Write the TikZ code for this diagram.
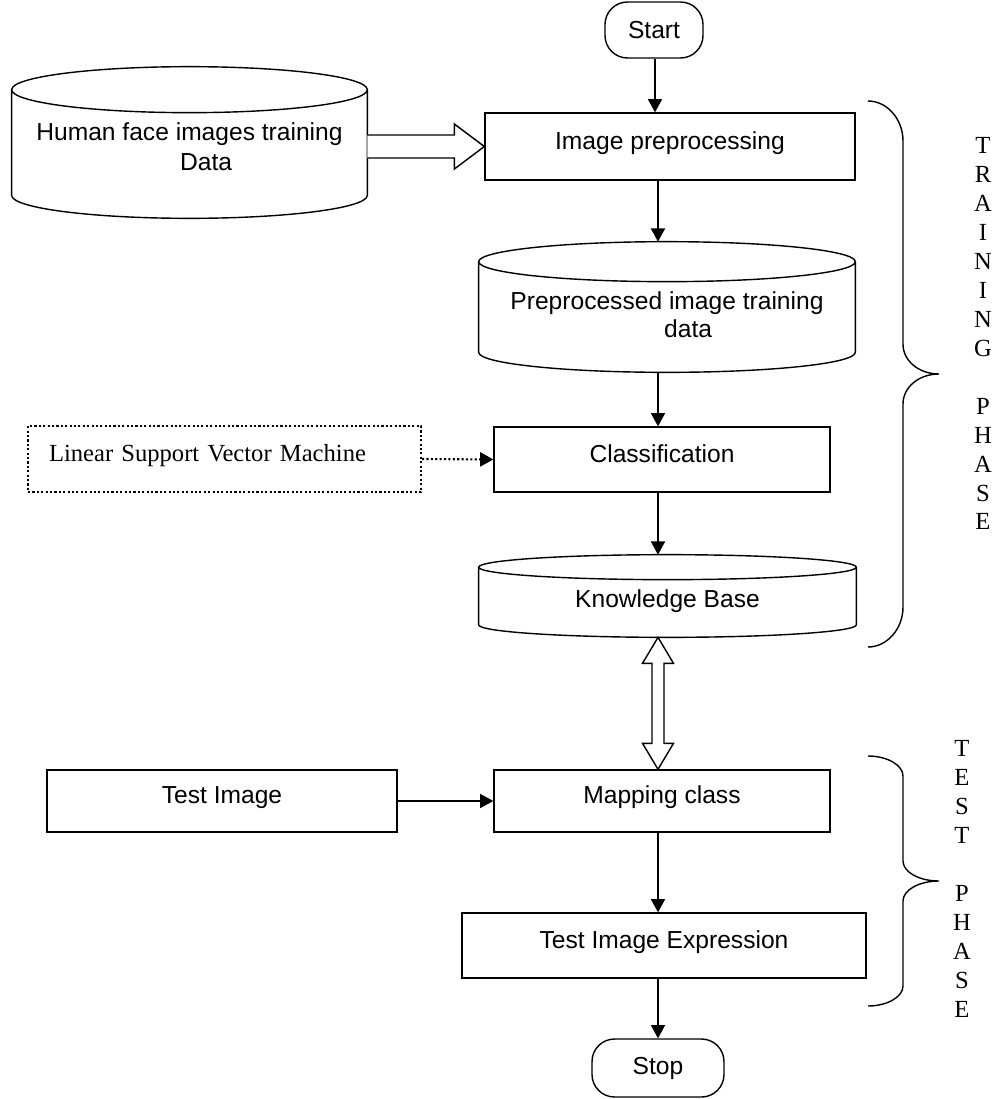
\documentclass[tikz,border=0pt]{standalone}
\usepackage{fontspec}
\setmainfont{Liberation Sans}
\newfontfamily\timesfont{Liberation Serif}
\usetikzlibrary{calc, positioning, arrows.meta}

% cylinder outline round a named node, #2 = radius of the end ellipses
\newcommand{\cuve}[2]{%
	\draw[thick] let \p1=(#1.north west), \p2=(#1.south east), \n1={(\x2-\x1)/2} in
		(\x1,\y1-#2) -- (\x1,\y2+#2) arc[start angle=180, end angle=360, x radius=\n1, y radius=#2]
		-- (\x2,\y1-#2) arc[start angle=0, end angle=360, x radius=\n1, y radius=#2];
}

\begin{document}
\begin{tikzpicture}[x=0.02cm, y=-0.02cm, font=\fontsize{14}{17}\selectfont]
	\tikzstyle{fleche}=[->,>={Triangle[length=7.5pt,width=8pt]},thick]
	\tikzstyle{boite}=[draw,thick,inner sep=0pt,text height=10pt,text depth=7pt]
	\tikzstyle{bout}=[draw,thick,rounded corners=0.45cm,inner sep=0pt]
	\tikzstyle{cuve}=[inner sep=0pt,align=center,text depth=0pt]
	\tikzstyle{creux}=[thick,fill=white,line join=miter]
	\tikzstyle{pointille}=[line width=1.2pt,dash pattern=on 1.2pt off 1.3pt]
	\tikzstyle{lettres}=[align=center,font=\timesfont\fontsize{14}{16.5}\selectfont]
	\useasboundingbox (0,0) rectangle (995,1099);
	\coordinate (axe) at (658,0);

	% training
	\node[bout,minimum width=1.96cm,minimum height=1.12cm] (start) at (654,30) {Start};
	\node[cuve,minimum width=7.1cm,minimum height=3.02cm,text height=32pt] (visages) at (189.5,142.5) {Human face images training\\\hspace*{19pt}Data};
	\node[boite,minimum width=7.4cm,minimum height=1.34cm] (pretraite) at (670,146.5) {Image preprocessing};
	\node[cuve,minimum width=7.52cm,minimum height=2.6cm,text height=35pt,font=\fontsize{14}{16}\selectfont] (donnees) at (667,307) {Preprocessed image training\\\hspace*{24pt}data};
	\node[boite,minimum width=6.72cm,minimum height=1.3cm] (classif) at (662,459.5) {Classification};
	\node[draw,pointille,inner xsep=0.42cm,text width=7.02cm,align=left,minimum height=1.32cm,font=\timesfont\fontsize{14}{17}\selectfont,text height=10pt,text depth=7pt] (svm) at (224.5,459) {Linear Support Vector Machine};
	\node[cuve,minimum width=7.54cm,minimum height=1.64cm,text height=13.6pt] (savoir) at (667.5,596) {Knowledge Base};
	\cuve{visages}{0.46cm}
	\cuve{donnees}{0.4cm}
	\cuve{savoir}{0.25cm}

	% test
	\node[boite,minimum width=7cm,minimum height=1.24cm] (image) at (222,801) {Test Image};
	\node[boite,minimum width=6.72cm,minimum height=1.24cm] (mapping) at (662,801) {Mapping class};
	\node[boite,minimum width=8.08cm,minimum height=1.3cm] (expression) at (664,945.5) {Test Image Expression};
	\node[bout,minimum width=2.64cm,minimum height=1.16cm] (stop) at (658,1068) {Stop};

	\draw[fleche] (start.south -| 655,0) -- (pretraite.north -| 655,0);
	\draw[creux] ($(visages.east |- pretraite.west)+(0,-11.5)$) -- ($(pretraite.west)+(-30,-11.5)$) -- ++(0,-11) -- (pretraite.west) -- ++(-30,22.5) -- ++(0,-11) -- ($(visages.east |- pretraite.west)+(0,11.5)$);
	\draw[fleche] (pretraite.south -| axe) -- (donnees.north -| axe);
	\draw[fleche] (donnees.south -| axe) -- (classif.north -| axe);
	\draw[fleche,pointille] (svm.east) -- (classif.west);
	\draw[fleche] (classif.south -| axe) -- (savoir.north -| axe);
	\draw[creux] (savoir.south -| axe) -- ++(15.5,26) -- ++(-9.5,0) -- ($(mapping.north -| axe)+(6,-26)$) -- ++(9.5,0) -- (mapping.north -| axe) -- ++(-15.5,-26) -- ++(9.5,0) -- ($(savoir.south -| axe)+(-6,26)$) -- ++(-9.5,0) -- cycle;
	\draw[fleche] (image.east) -- (mapping.west);
	\draw[fleche] (mapping.south -| axe) -- (expression.north -| axe);
	\draw[fleche] (expression.south -| axe) -- (stop.north -| axe);

	% phases
	\draw[thick] (868,101) .. controls (887,101) and (903,119) .. (903,141) -- (903,344) .. controls (903,361) and (919,374) .. (939,374)
		.. controls (919,374) and (903,387) .. (903,404) -- (903,607) .. controls (903,629) and (887,647) .. (868,647);
	\draw[thick] (868,756) .. controls (887,756) and (903,765) .. (903,776) -- (903,861) .. controls (903,872) and (919,881) .. (939,881)
		.. controls (919,881) and (903,890) .. (903,901) -- (903,986) .. controls (903,997) and (887,1006) .. (868,1006);
	\node[lettres] (apprentissage) at (983,333.5) {T\\R\\A\\I\\N\\I\\N\\G\\[16.5pt]P\\H\\A\\S\\E};
	\node[lettres] (essai) at (962,879) {T\\E\\S\\T\\[16.5pt]P\\H\\A\\S\\E};
\end{tikzpicture}
\end{document}
